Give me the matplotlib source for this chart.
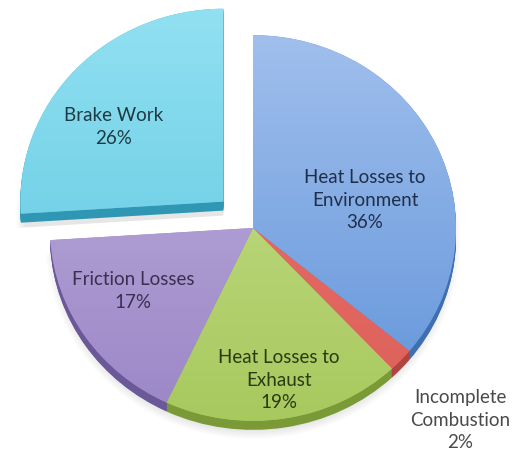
import numpy as np
import matplotlib.pyplot as plt
from matplotlib.colors import LinearSegmentedColormap

# Engine energy balance
names = ['Heat Losses to\nEnvironment', 'Incomplete\nCombustion',
         'Heat Losses to\nExhaust', 'Friction Losses', 'Brake Work']
shares = [36, 2, 19, 17, 26]
explode = [0, 0, 0, 0, 0.2]

# face colours (top light, bottom dark) and side colour per slice
light = ['#a6c3ee', '#e8746d', '#cbe294', '#c3b4e0', '#93e1f2']
dark = ['#5b90d8', '#dc5f58', '#a5c75a', '#9883c5', '#52c1dc']
side = ['#3f6fb0', '#b04440', '#7a9a38', '#6a5898', '#2f97b3']
txt_col = ['#1f2f4a', '#4a4a4a', '#2a3a12', '#3a2f50', '#1f3a44']
txt_pos = [(365, 200), (460, 420), (279, 380), (133, 291), (114, 127)]

W, H = 516, 455
SQ = 0.95          # vertical squash of the tilted pie
depth = 9          # thickness of the pie edge in pixels
cx, cy = 253, 228  # pie centre in pixels (from top)
R = 203
expl = [e * R for e in explode]   # pie() takes explode in data units

fig = plt.figure(figsize=(W / 100, H / 100), dpi=100)
ax = fig.add_axes([0, 0, 1, 1])
ylim_top = H / SQ

def to_data(x, y):
    return x, (H - y) / SQ

c0 = to_data(cx, cy)

# soft shadow under the pie
for k in range(5):
    ax.pie(shares, explode=expl, radius=R - 4 + k * 2, startangle=90,
           counterclock=False, center=to_data(cx, cy + depth + 5),
           colors=['#000000'] * 5,
           wedgeprops=dict(alpha=0.02, linewidth=0))

# side of the pie, stacked layers
for d in range(depth, 0, -1):
    ax.pie(shares, explode=expl, radius=R, startangle=90,
           counterclock=False, center=to_data(cx, cy + d), colors=side,
           wedgeprops=dict(linewidth=0))

# top faces
wedges, _ = ax.pie(shares, explode=expl, radius=R, startangle=90,
                   counterclock=False, center=c0, colors=dark,
                   wedgeprops=dict(linewidth=0))

grad = np.linspace(0, 1, 256).reshape(-1, 1)
for w, lc, dc in zip(wedges, light, dark):
    cmap = LinearSegmentedColormap.from_list('g', [lc, dc])
    im = ax.imshow(grad, cmap=cmap, extent=(0, W, 0, ylim_top),
                   aspect='auto', origin='upper', zorder=w.get_zorder())
    im.set_clip_path(w)

for name, val, (tx, ty), tc in zip(names, shares, txt_pos, txt_col):
    x, y = to_data(tx, ty)
    ax.text(x, y, f'{name}\n{val}%', ha='center', va='center',
            fontsize=13.5, family='Lato', color=tc, linespacing=1.4,
            zorder=10)

ax.set_xlim(0, W)
ax.set_ylim(0, ylim_top)
ax.set_aspect('auto')
ax.axis('off')

plt.savefig('out.png', dpi=100)
